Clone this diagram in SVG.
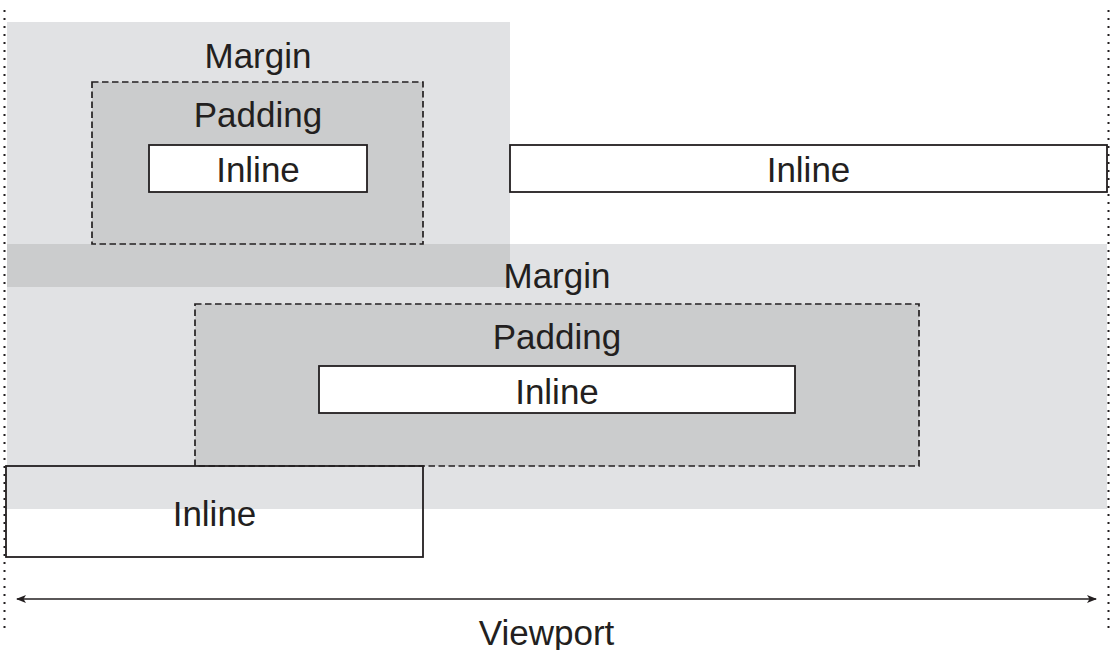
<svg xmlns="http://www.w3.org/2000/svg" width="1110" height="650" viewBox="0 0 1110 650">
<style>
.margin{fill:#e1e2e4;stroke:none}
.overlap{fill:#cbcccd;stroke:none}
.padding{fill:#cbcccd;stroke:#231f20;stroke-width:1.7;stroke-dasharray:6.5 3.5}
.inline{fill:#ffffff;stroke:#231f20;stroke-width:1.8}
.inline-open{fill:none;stroke:#231f20;stroke-width:1.8}
.dots{stroke:#231f20;stroke-width:2;stroke-dasharray:2 6;fill:none}
.lbl{font-family:"Liberation Sans",Arial,sans-serif;font-size:35px;fill:#231f20;text-anchor:middle}
.arrow{stroke:#231f20;stroke-width:1.6;fill:none}
</style>
<defs>
<marker id="ah" viewBox="0 0 10 8" refX="9" refY="4" markerWidth="10" markerHeight="8" markerUnits="userSpaceOnUse" orient="auto-start-reverse">
<path d="M0,0 L10,4 L0,8 L2.5,4 Z" fill="#231f20"/>
</marker>
</defs>
<g id="viewport-bounds">
<line class="dots" x1="4.5" y1="10" x2="4.5" y2="632"/>
<line class="dots" x1="1108.5" y1="10" x2="1108.5" y2="632"/>
</g>
<g id="margin-top">
<rect class="margin" x="7" y="22" width="503" height="265"/>
<text class="lbl" x="258" y="68">Margin</text>
</g>
<g id="margin-bottom">
<rect class="margin" x="7" y="244" width="1100" height="265"/>
<rect class="overlap" x="7" y="244" width="503" height="43"/>
<text class="lbl" x="557" y="288">Margin</text>
</g>
<g id="padding-top">
<rect class="padding" x="92" y="82" width="331" height="162"/>
<text class="lbl" x="258" y="127">Padding</text>
</g>
<g id="padding-bottom">
<rect class="padding" x="195" y="304" width="724" height="162"/>
<text class="lbl" x="557" y="349">Padding</text>
</g>
<g id="inline-top">
<rect class="inline" x="149" y="145" width="218" height="47"/>
<text class="lbl" x="258" y="182">Inline</text>
</g>
<g id="inline-right">
<rect class="inline" x="510" y="145" width="597" height="47"/>
<text class="lbl" x="808.5" y="182">Inline</text>
</g>
<g id="inline-middle">
<rect class="inline" x="319" y="366" width="476" height="47"/>
<text class="lbl" x="557" y="404">Inline</text>
</g>
<g id="inline-bottom">
<rect class="inline-open" x="6" y="466" width="417" height="91"/>
<text class="lbl" x="214.5" y="526">Inline</text>
</g>
<g id="connectors">
<line class="arrow" x1="17" y1="599" x2="1096" y2="599" marker-start="url(#ah)" marker-end="url(#ah)"/>
</g>
<g id="viewport-label">
<text class="lbl" x="546.5" y="645">Viewport</text>
</g>
</svg>
